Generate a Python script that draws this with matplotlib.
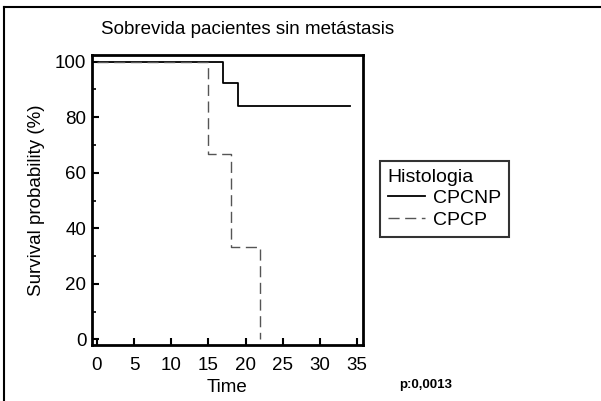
import matplotlib
matplotlib.use("Agg")
import matplotlib.pyplot as plt
from matplotlib.lines import Line2D

plt.rcParams['font.family'] = ['Liberation Sans', 'DejaVu Sans']

title = "Sobrevida pacientes sin metástasis"
cpcnp_t = [0, 17, 19, 34]
cpcnp_s = [100, 92.3, 83.9, 83.9]
cpcp_t = [0, 15, 18, 22]
cpcp_s = [100, 66.7, 33.3, 0]
xticks = [0, 5, 10, 15, 20, 25, 30, 35]
yticks = [0, 20, 40, 60, 80, 100]
yminor = [10, 30, 50, 70, 90]
legend_title = "Histologia"
labels = ["CPCNP", "CPCP"]
pval = "p:0,0013"

fig = plt.figure(figsize=(6.01, 4.01), dpi=100)
W, H = 601, 401
ax = fig.add_axes([92 / W, 1 - 345 / H, (363 - 92) / W, (345 - 55) / H])

ax.step(cpcnp_t, cpcnp_s, where='post', color='black', lw=1.3)
ax.step(cpcp_t, cpcp_s, where='post', color='#555555', lw=1.0, dashes=(8, 4))

ax.set_xlim(-0.67, 35.8)
ax.set_ylim(-2.0, 102.4)
ax.set_xticks(xticks)
ax.set_yticks(yticks)
ax.set_yticks(yminor, minor=True)
ax.tick_params(axis='both', direction='in', length=5, width=1.5, labelsize=13.5, pad=4)
ax.tick_params(axis='x', pad=9)
ax.tick_params(axis='y', which='minor', direction='in', length=3, width=1.2)
for s in ax.spines.values():
    s.set_linewidth(2)

fig.text(248 / W, 1 - 30 / H, title, fontsize=13.5, ha='center', va='center')
fig.text(227 / W, 1 - 388 / H, "Time", fontsize=13.5, ha='center', va='center')
ax.set_ylabel("Survival probability (%)", fontsize=13.5, labelpad=7)

handles = [Line2D([], [], color='black', lw=1.3),
           Line2D([], [], color='#555555', lw=1.0, dashes=(8, 4))]
leg = fig.legend(handles, labels, title=legend_title, loc='upper left',
                 bbox_to_anchor=(380 / W, 1 - 161 / H), frameon=True, fancybox=False,
                 edgecolor='black', fontsize=14, title_fontsize=14,
                 handlelength=1.9, handletextpad=0.45, borderpad=0.4, labelspacing=0.2,
                 borderaxespad=0, alignment='left')
leg.get_frame().set_linewidth(1.5)

fig.text(399 / W, 1 - 385 / H, pval, fontsize=9.5, fontweight='bold', ha='left', va='center')

fig.add_artist(Line2D([4 / W, 1], [1 - 7 / H, 1 - 7 / H], color='black', lw=1.5, transform=fig.transFigure))
fig.add_artist(Line2D([4 / W, 4 / W], [1 - 7 / H, 0], color='black', lw=1.5, transform=fig.transFigure))

fig.savefig("out.png", dpi=100)
